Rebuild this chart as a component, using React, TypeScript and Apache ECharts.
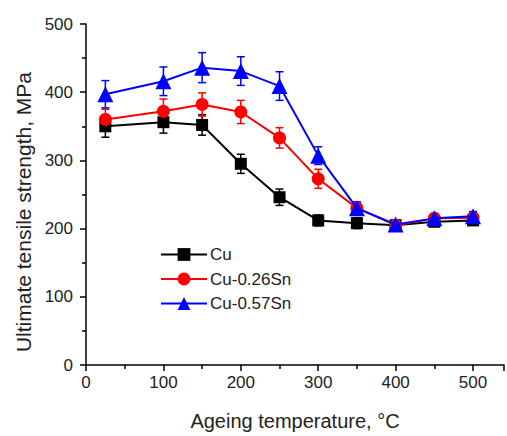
import React, { useEffect, useRef } from "react";
import * as echarts from "echarts";

// Ageing temperature (°C) and ultimate tensile strength (MPa) with error half-widths
const temps = [25, 100, 150, 200, 250, 300, 350, 400, 450, 500];
const cu = [350, 356, 352, 295, 246, 212, 208, 205, 210, 212];
const cuErr = [16, 16, 15, 14, 12, 8, 8, 6, 6, 6];
const sn026 = [360, 372, 382, 371, 333, 273, 230, 205, 215, 216];
const sn026Err = [15, 18, 17, 17, 15, 14, 9, 6, 7, 7];
const sn057 = [397, 416, 436, 431, 409, 307, 230, 206, 215, 218];
const sn057Err = [20, 21, 22, 21, 21, 13, 9, 6, 7, 7];

const seriesNames = ["Cu", "Cu-0.26Sn", "Cu-0.57Sn"];
const colors = ["#000000", "#ff0000", "#0000ff"];
const symbols = ["rect", "circle", "triangle"];
const symbolSizes = [12, 13, 16];

const yTitle = "Ultimate tensile strength, MPa";
const xTitle = "Ageing temperature, °C";

function errorSeries(values: number[], errs: number[], color: string) {
  return {
    type: "custom",
    silent: true,
    z: 1,
    data: temps.map((t, i) => [t, values[i] - errs[i], values[i] + errs[i]]),
    encode: { x: 0, y: [1, 2] },
    renderItem: (_params: any, api: any) => {
      const x = api.value(0);
      const top = api.coord([x, api.value(2)]);
      const bot = api.coord([x, api.value(1)]);
      const w = 4;
      const style = { stroke: color, lineWidth: 1.5 };
      return {
        type: "group",
        children: [
          { type: "line", shape: { x1: top[0], y1: top[1], x2: bot[0], y2: bot[1] }, style },
          { type: "line", shape: { x1: top[0] - w, y1: top[1], x2: top[0] + w, y2: top[1] }, style },
          { type: "line", shape: { x1: bot[0] - w, y1: bot[1], x2: bot[0] + w, y2: bot[1] }, style },
        ],
      };
    },
  };
}

export default function App() {
  const ref = useRef<HTMLDivElement>(null);

  useEffect(() => {
    if (!ref.current) return;
    const chart = echarts.init(ref.current, null, { renderer: "svg" });
    const valueSets = [cu, sn026, sn057];
    const errSets = [cuErr, sn026Err, sn057Err];

    const axisCommon = {
      axisLine: { show: true, lineStyle: { color: "#000", width: 1.5 } },
      axisTick: { show: true, inside: false, length: 6, lineStyle: { color: "#000", width: 1.5 } },
      minorTick: { show: true, splitNumber: 2, length: 4, lineStyle: { color: "#000", width: 1.5 } },
      splitLine: { show: false },
    };

    chart.setOption({
      animation: false,
      backgroundColor: "#ffffff",
      grid: { left: 86, right: 0, top: 24, bottom: 66 },
      xAxis: {
        type: "value",
        min: 0,
        max: 540,
        interval: 100,
        ...axisCommon,
        axisLabel: {
          fontFamily: "Liberation Sans, Arial, sans-serif",
          fontSize: 17,
          color: "#222",
          margin: 9,
          formatter: (v: number) => (v % 100 === 0 ? String(v) : ""),
        },
        name: xTitle,
        nameLocation: "middle",
        nameGap: 46,
        nameTextStyle: {
          fontFamily: "Liberation Sans, Arial, sans-serif",
          fontSize: 20,
          color: "#222",
        },
      },
      yAxis: {
        type: "value",
        min: 0,
        max: 500,
        interval: 100,
        ...axisCommon,
        axisLabel: {
          fontFamily: "Liberation Sans, Arial, sans-serif",
          fontSize: 17,
          color: "#222",
          margin: 13,
        },
      },
      legend: {
        orient: "vertical",
        left: 160,
        top: 246,
        padding: 0,
        itemGap: 7.5,
        itemWidth: 46,
        itemHeight: 16,
        data: seriesNames,
        textStyle: {
          fontFamily: "Liberation Sans, Arial, sans-serif",
          fontSize: 17,
          color: "#222",
          padding: [0, 0, 0, -2],
        },
      },
      graphic: [
        {
          type: "text",
          x: 23,
          y: 212,
          rotation: Math.PI / 2,
          style: {
            text: yTitle,
            fontFamily: "Liberation Sans, Arial, sans-serif",
            fontSize: 21,
            fill: "#222",
            align: "center",
            verticalAlign: "middle",
          },
        },
      ],
      series: [
        ...valueSets.map((vals, i) => errorSeries(vals, errSets[i], colors[i])),
        ...valueSets.map((vals, i) => ({
          type: "line",
          name: seriesNames[i],
          z: 2 + i,
          data: temps.map((t, j) => [t, vals[j]]),
          symbol: symbols[i],
          symbolSize: symbolSizes[i],
          showAllSymbol: true,
          lineStyle: { color: colors[i], width: 2 },
          itemStyle: { color: colors[i], borderWidth: 0 },
        })),
      ],
    });

    return () => chart.dispose();
  }, []);

  return (
    <div
      ref={ref}
      style={{ position: "absolute", left: 0, top: 0, width: 507, height: 436 }}
    />
  );
}
